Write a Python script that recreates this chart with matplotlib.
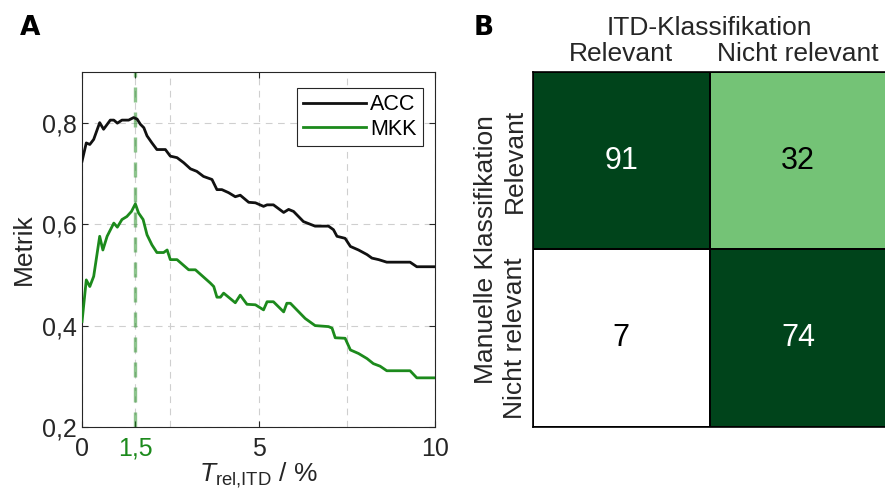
import matplotlib
matplotlib.use("Agg")
import matplotlib.pyplot as plt
import numpy as np
from matplotlib.ticker import FuncFormatter
from matplotlib.colors import LinearSegmentedColormap

plt.rcParams['font.family'] = ['Liberation Sans', 'DejaVu Sans']
plt.rcParams['mathtext.fontset'] = 'custom'
plt.rcParams['mathtext.rm'] = 'Liberation Sans'
plt.rcParams['mathtext.it'] = 'Liberation Sans:italic'

# ---- Data panel A ----
acc_x = [0, 0.12, 0.22, 0.33, 0.5, 0.61, 0.8, 0.9, 1.0, 1.13, 1.32, 1.46, 1.56, 1.65, 1.75,
         1.84, 1.98, 2.12, 2.36, 2.5, 2.69, 2.88, 3.07, 3.25, 3.44, 3.68, 3.82, 3.96, 4.15,
         4.34, 4.48, 4.72, 4.91, 5.14, 5.24, 5.42, 5.71, 5.85, 5.99, 6.27, 6.6, 6.98, 7.12,
         7.22, 7.45, 7.6, 7.83, 8.07, 8.21, 8.4, 8.63, 9.29, 9.48, 10]
acc_y = [0.724, 0.760, 0.757, 0.767, 0.800, 0.787, 0.805, 0.805, 0.799, 0.805, 0.805, 0.810,
         0.807, 0.797, 0.790, 0.774, 0.760, 0.747, 0.747, 0.734, 0.731, 0.721, 0.709, 0.704,
         0.694, 0.688, 0.668, 0.668, 0.662, 0.654, 0.657, 0.643, 0.642, 0.635, 0.638, 0.638,
         0.623, 0.629, 0.625, 0.605, 0.596, 0.596, 0.589, 0.576, 0.572, 0.556, 0.549, 0.540,
         0.533, 0.530, 0.525, 0.525, 0.516, 0.516]
mkk_x = [0, 0.12, 0.22, 0.33, 0.5, 0.59, 0.71, 0.9, 1.0, 1.13, 1.27, 1.4, 1.51, 1.6, 1.73,
         1.84, 1.98, 2.12, 2.31, 2.41, 2.5, 2.69, 3.02, 3.21, 3.63, 3.73, 3.82, 3.92, 4.01,
         4.34, 4.48, 4.67, 4.91, 5.14, 5.24, 5.42, 5.71, 5.8, 5.9, 6.18, 6.32, 6.6, 6.98,
         7.08, 7.17, 7.45, 7.6, 7.83, 8.07, 8.25, 8.44, 8.63, 9.29, 9.48, 10]
mkk_y = [0.408, 0.490, 0.477, 0.497, 0.576, 0.549, 0.576, 0.602, 0.594, 0.609, 0.615, 0.625,
         0.640, 0.622, 0.609, 0.579, 0.559, 0.544, 0.544, 0.549, 0.530, 0.530, 0.510, 0.510,
         0.484, 0.477, 0.456, 0.456, 0.464, 0.445, 0.460, 0.442, 0.441, 0.431, 0.447, 0.447,
         0.427, 0.444, 0.444, 0.424, 0.414, 0.400, 0.398, 0.395, 0.376, 0.375, 0.352, 0.345,
         0.335, 0.325, 0.320, 0.311, 0.311, 0.297, 0.297]
threshold = 1.5
x_ticks = [0, 1.5, 5, 10]
y_ticks = [0.2, 0.4, 0.6, 0.8]

# ---- Data panel B ----
cm_values = [[91, 32], [7, 74]]
col_labels = ["Relevant", "Nicht relevant"]
row_labels = ["Relevant", "Nicht relevant"]

GREEN = '#1c8a1c'
SPINE = '#262626'

fig = plt.figure(figsize=(8.85, 4.96), dpi=100)

# ---------------- Panel A ----------------
ax = fig.add_axes([0.0927, 0.139, 0.399, 0.716])
ax.plot(acc_x, acc_y, color='#111111', lw=2.0, label='ACC', zorder=3)
ax.plot(mkk_x, mkk_y, color=GREEN, lw=2.0, label='MKK', zorder=3)
ax.axvline(threshold, color=GREEN, alpha=0.5, lw=2.4, ls=(0, (4.5, 3)), zorder=2)

ax.set_xlim(0, 10)
ax.set_ylim(0.2, 0.9)
ax.set_xticks(x_ticks)
ax.set_xticks([2.5, 7.5], minor=True)
ax.set_yticks(y_ticks)
ax.xaxis.set_major_formatter(FuncFormatter(lambda v, p: f"{v:g}".replace('.', ',')))
ax.yaxis.set_major_formatter(FuncFormatter(lambda v, p: f"{v:.1f}".replace('.', ',')))
ax.tick_params(axis='both', which='major', direction='in', length=4, width=0.8,
               labelsize=18, colors=SPINE, top=True, right=True)
ax.tick_params(axis='y', which='major', pad=4)
ax.tick_params(axis='x', which='major', pad=7)
ax.tick_params(axis='x', which='minor', length=0, top=False, bottom=False)
for lab in ax.get_xticklabels():
    if lab.get_text() == '1,5':
        lab.set_color(GREEN)
ax.grid(True, which='major', axis='y', color='#cfcfcf', ls=(0, (6, 5)), lw=0.8)
ax.grid(True, which='both', axis='x', color='#cfcfcf', ls=(0, (6, 5)), lw=0.8)
for s in ax.spines.values():
    s.set_color(SPINE)
    s.set_linewidth(0.8)
ax.set_ylabel('Metrik', fontsize=19, color=SPINE, labelpad=4)
ax.set_xlabel(r'$T_{\mathrm{rel{,}ITD}}$ / %', fontsize=19, color=SPINE, labelpad=0)
leg = ax.legend(loc='upper right', bbox_to_anchor=(0.965, 0.955), fontsize=15.5, frameon=True,
                fancybox=False, edgecolor=SPINE, framealpha=1, handlelength=2.9,
                handletextpad=0.2, borderpad=0.3, labelspacing=0.15, borderaxespad=0)
leg.get_frame().set_linewidth(0.8)

# ---------------- Panel B ----------------
bx = fig.add_axes([0.602, 0.139, 0.400, 0.716])
vals = np.array(cm_values)
cmap = LinearSegmentedColormap.from_list('wg', ['#ffffff', '#74c476', '#00441b'])
bx.pcolormesh(vals, cmap=cmap, vmin=7, vmax=57, edgecolors='black', linewidth=1.2)
bx.set_xlim(0, 2)
bx.set_ylim(2, 0)
for i in range(2):
    for j in range(2):
        v = vals[i, j]
        c = 'white' if v > 50 else 'black'
        bx.text(j + 0.5, i + 0.5, str(v), ha='center', va='center', fontsize=22, color=c)
bx.set_xticks([0.5, 1.5])
bx.set_xticklabels(col_labels, fontsize=19, color=SPINE)
bx.set_yticks([0.5, 1.5])
bx.set_yticklabels(row_labels, fontsize=19, color=SPINE, rotation=90, va='center')
bx.xaxis.tick_top()
bx.xaxis.set_label_position('top')
bx.tick_params(axis='both', length=0, pad=4)
bx.set_xlabel('ITD-Klassifikation', fontsize=19, color=SPINE, labelpad=5)
bx.set_ylabel('Manuelle Klassifikation', fontsize=19, color=SPINE, labelpad=4)
for s in bx.spines.values():
    s.set_color('black')
    s.set_linewidth(1.2)

fig.text(0.022, 0.943, 'A', fontsize=19, fontweight='bold', family='DejaVu Sans', va='center')
fig.text(0.535, 0.943, 'B', fontsize=19, fontweight='bold', family='DejaVu Sans', va='center')

fig.savefig('out.png', dpi=100)
